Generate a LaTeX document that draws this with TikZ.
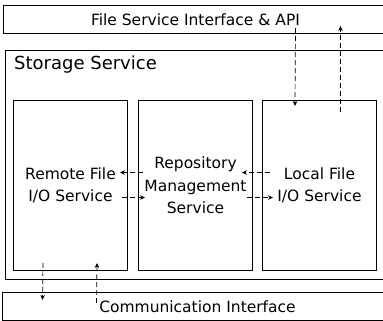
\documentclass[tikz,border=0pt]{standalone}
\usepackage{fontspec}
\setmainfont{DejaVu Sans}
\usetikzlibrary{arrows.meta}
\tikzstyle{outerbox}=[draw, line width=1pt, inner sep=0pt, anchor=north west, font=\fontsize{15.5}{18}\selectfont]
\tikzstyle{unitbox}=[draw, line width=1pt, inner sep=0pt, anchor=north west, minimum width=114pt, minimum height=170pt, align=center, font=\fontsize{15.5}{22.5}\selectfont]
\tikzstyle{title}=[inner sep=0pt, anchor=north west, font=\fontsize{18}{20}\selectfont]
\tikzstyle{flow}=[line width=0.7pt, dash pattern=on 5pt off 3pt, -{Stealth[length=5pt,width=4.5pt]}]

\begin{document}
\begin{tikzpicture}[x=1pt,y=-1pt]
	\clip (0,0) rectangle (383,321);
	% outer layers
	\node[outerbox, minimum width=384pt, minimum height=28pt] (api) at (3,5) {File Service Interface \& API};
	\node[outerbox, minimum width=390pt, minimum height=229pt] (storage) at (5,50) {};
	\node[title] (stitle) at (14,56) {Storage Service};
	\node[outerbox, minimum width=390pt, minimum height=28pt] (comm) at (2,292) {Communication Interface};
	
	% services
	\node[unitbox] (remote) at (13,100) {Remote File\\I/O Service};
	\node[unitbox] (repo) at (138,100) {Repository\\Management\\Service};
	\node[unitbox] (local) at (262,100) {Local File\\I/O Service};
	
	% repository <-> file services
	\draw[flow] ([xshift=5pt,yshift=13pt]repo.west) -- ([xshift=-8pt,yshift=13pt]remote.east);
	\draw[flow] ([xshift=-6pt,yshift=-12pt]remote.east) -- ([xshift=7pt,yshift=-12pt]repo.west);
	\draw[flow] ([xshift=8pt,yshift=13pt]local.west) -- ([xshift=-11pt,yshift=13pt]repo.east);
	\draw[flow] ([xshift=-6pt,yshift=-12pt]repo.east) -- ([xshift=11pt,yshift=-12pt]local.west);
	
	% api <-> local
	\draw[flow] ([xshift=100pt,yshift=6pt]api.south) -- ([xshift=-24.5pt,yshift=-6pt]local.north);
	\draw[flow] ([xshift=21pt,yshift=-12pt]local.north) -- ([xshift=145pt,yshift=8pt]api.south);
	
	% remote <-> communication
	\draw[flow] ([xshift=-27.5pt,yshift=8pt]remote.south) -- ([xshift=-155pt,yshift=-8pt]comm.north);
	\draw[flow] ([xshift=-101pt,yshift=-11pt]comm.north) -- ([xshift=26.5pt,yshift=8pt]remote.south);
\end{tikzpicture}
\end{document}
